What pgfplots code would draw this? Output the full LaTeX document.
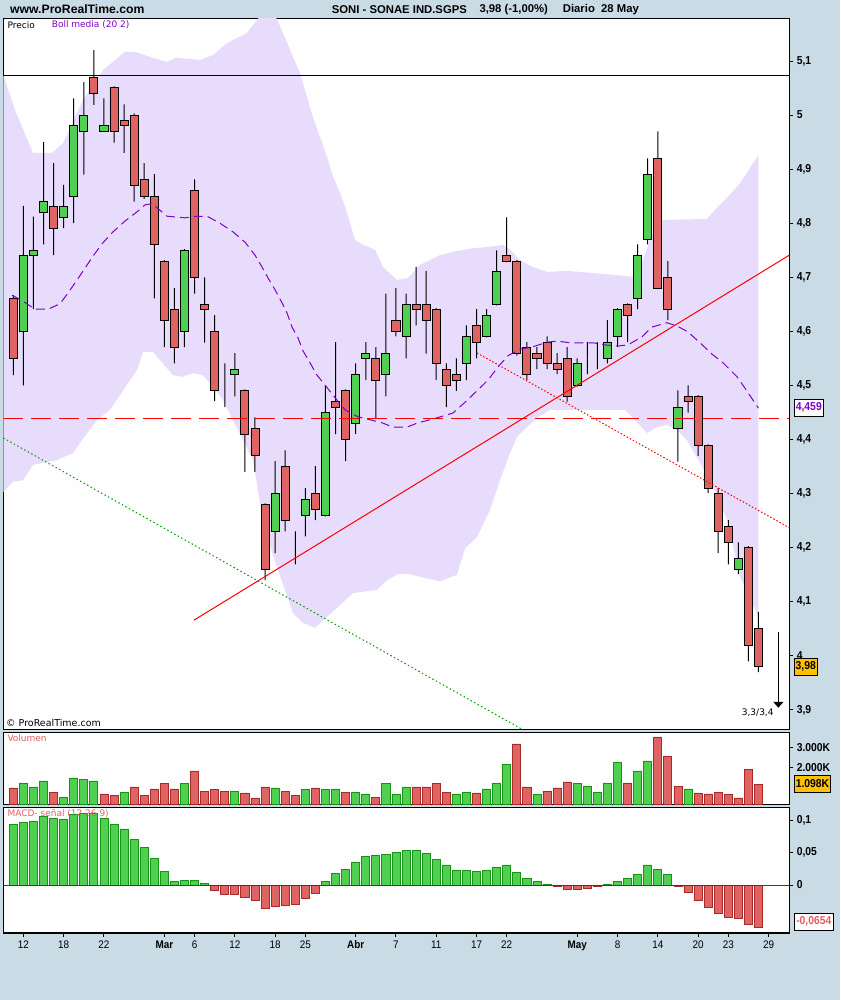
\documentclass[border=0pt]{standalone}
\usepackage{pgfplots}
\pgfplotsset{compat=1.18}
\usepackage{pgfplotstable}
\usetikzlibrary{arrows.meta}
\usepackage{fontspec}
\setmainfont{Liberation Sans}
\newfontfamily\tickfont[FakeStretch=0.9]{Liberation Sans}
\newfontfamily\smallfont{DejaVu Sans}

\definecolor{bgc}{RGB}{201,220,230}
\definecolor{bandc}{RGB}{232,220,252}
\definecolor{cgreen}{RGB}{80,208,80}
\definecolor{cred}{RGB}{222,100,100}
\definecolor{dgreen}{RGB}{20,150,20}
\definecolor{dred}{RGB}{170,40,40}
\definecolor{purp}{RGB}{128,0,200}
\definecolor{orng}{RGB}{255,192,0}
\definecolor{labred}{RGB}{224,96,96}
\definecolor{zblue}{RGB}{40,40,220}

\pgfplotstableread{
i o h l c
0 4.661 4.667 4.519 4.550
1 4.600 4.832 4.500 4.741
2 4.741 4.812 4.641 4.750
3 4.820 4.950 4.761 4.841
4 4.831 4.911 4.741 4.791
5 4.811 4.871 4.791 4.831
6 4.849 5.031 4.800 4.981
7 4.970 5.061 4.890 5.000
8 5.070 5.120 5.019 5.040
9 4.970 5.031 4.970 4.981
10 5.051 5.053 4.949 4.970
11 4.990 5.020 4.930 4.981
12 5.000 5.003 4.840 4.870
13 4.881 4.911 4.845 4.849
14 4.850 4.891 4.661 4.761
15 4.730 4.732 4.571 4.621
16 4.641 4.680 4.541 4.571
17 4.600 4.752 4.571 4.750
18 4.861 4.881 4.670 4.700
19 4.650 4.700 4.579 4.641
20 4.600 4.630 4.471 4.491
21 4.480 4.541 4.460 4.480
22 4.521 4.560 4.480 4.530
23 4.491 4.493 4.340 4.410
24 4.421 4.441 4.340 4.371
25 4.280 4.282 4.140 4.160
26 4.230 4.360 4.190 4.301
27 4.351 4.380 4.230 4.251
28 4.190 4.230 4.169 4.190
29 4.260 4.310 4.221 4.290
30 4.301 4.351 4.251 4.271
31 4.260 4.500 4.258 4.450
32 4.471 4.580 4.410 4.460
33 4.491 4.493 4.360 4.400
34 4.430 4.541 4.410 4.521
35 4.550 4.580 4.510 4.560
36 4.550 4.571 4.439 4.510
37 4.521 4.670 4.480 4.560
38 4.621 4.680 4.591 4.600
39 4.591 4.670 4.550 4.650
40 4.650 4.720 4.611 4.641
41 4.650 4.712 4.559 4.621
42 4.641 4.643 4.510 4.541
43 4.530 4.541 4.460 4.500
44 4.521 4.550 4.490 4.510
45 4.541 4.611 4.510 4.591
46 4.611 4.641 4.550 4.580
47 4.591 4.641 4.589 4.630
48 4.650 4.750 4.648 4.711
49 4.741 4.811 4.728 4.730
50 4.730 4.732 4.555 4.560
51 4.571 4.580 4.510 4.521
52 4.560 4.571 4.530 4.550
53 4.580 4.591 4.530 4.541
54 4.541 4.560 4.521 4.530
55 4.550 4.571 4.470 4.480
56 4.500 4.550 4.498 4.541
57 4.550 4.580 4.521 4.550
58 4.560 4.580 4.530 4.560
59 4.550 4.621 4.541 4.580
60 4.591 4.643 4.571 4.641
61 4.650 4.652 4.580 4.630
62 4.661 4.761 4.641 4.741
63 4.770 4.920 4.761 4.891
64 4.920 4.970 4.678 4.680
65 4.700 4.730 4.621 4.641
66 4.421 4.491 4.359 4.460
67 4.480 4.500 4.450 4.470
68 4.480 4.482 4.370 4.389
69 4.389 4.391 4.301 4.310
70 4.301 4.310 4.190 4.230
71 4.240 4.251 4.169 4.210
72 4.160 4.210 4.151 4.180
73 4.201 4.203 3.990 4.020
74 4.051 4.081 3.970 3.980
}\ohlc
\pgfplotstablecreatecol[create col/expr={min(\thisrow{o},\thisrow{c})-\thisrow{l}}]{lw}{\ohlc}
\pgfplotstablecreatecol[create col/expr={max(\thisrow{c}-\thisrow{o},0)}]{up}{\ohlc}
\pgfplotstablecreatecol[create col/expr={max(\thisrow{o}-\thisrow{c},0)}]{dn}{\ohlc}
\pgfplotstablecreatecol[create col/expr={\thisrow{h}-max(\thisrow{o},\thisrow{c})}]{uw}{\ohlc}

\pgfplotstableread{
i g r
0 nan 0.93
1 1.19 nan
2 0.98 nan
3 1.29 nan
4 nan 0.72
5 0.46 nan
6 1.45 nan
7 1.39 nan
8 1.29 nan
9 nan 0.62
10 nan 0.52
11 0.72 nan
12 nan 0.98
13 nan 0.52
14 nan 0.88
15 nan 1.14
16 nan 0.88
17 1.14 nan
18 nan 1.81
19 nan 0.77
20 nan 0.83
21 nan 0.77
22 0.77 nan
23 nan 0.67
24 nan 0.41
25 nan 0.98
26 0.93 nan
27 nan 0.77
28 nan 0.52
29 0.83 nan
30 nan 0.93
31 0.83 nan
32 0.88 nan
33 nan 0.72
34 0.72 nan
35 0.62 nan
36 nan 0.46
37 1.14 nan
38 0.57 nan
39 0.98 nan
40 nan 0.98
41 nan 0.98
42 nan 1.14
43 nan 0.72
44 0.62 nan
45 0.72 nan
46 nan 0.67
47 0.88 nan
48 1.19 nan
49 2.17 nan
50 nan 3.21
51 nan 0.98
52 0.57 nan
53 nan 0.77
54 nan 0.93
55 nan 1.24
56 1.14 nan
57 1.03 nan
58 0.72 nan
59 1.19 nan
60 2.27 nan
61 nan 1.19
62 1.81 nan
63 2.33 nan
64 nan 3.57
65 nan 2.58
66 nan 1.03
67 0.88 nan
68 nan 0.67
69 nan 0.62
70 nan 0.72
71 nan 0.57
72 nan 0.41
73 nan 1.91
74 nan 1.10
}\vol

\pgfplotstableread{
i m
0 0.0947
1 0.0978
2 0.0994
3 0.1061
4 0.1040
5 0.1025
6 0.1092
7 0.1113
8 0.1118
9 0.1040
10 0.0947
11 0.0870
12 0.0714
13 0.0590
14 0.0419
15 0.0217
16 0.0062
17 0.0078
18 0.0078
19 0.0031
20 -0.0078
21 -0.0140
22 -0.0140
23 -0.0186
24 -0.0233
25 -0.0357
26 -0.0326
27 -0.0311
28 -0.0295
29 -0.0202
30 -0.0124
31 0.0062
32 0.0186
33 0.0248
34 0.0357
35 0.0450
36 0.0466
37 0.0481
38 0.0512
39 0.0543
40 0.0543
41 0.0497
42 0.0404
43 0.0311
44 0.0233
45 0.0233
46 0.0217
47 0.0233
48 0.0280
49 0.0311
50 0.0202
51 0.0109
52 0.0062
53 0.0016
54 -0.0016
55 -0.0062
56 -0.0062
57 -0.0047
58 -0.0016
59 0.0005
60 0.0062
61 0.0098
62 0.0171
63 0.0311
64 0.0248
65 0.0171
66 -0.0016
67 -0.0109
68 -0.0233
69 -0.0342
70 -0.0435
71 -0.0497
72 -0.0512
73 -0.0605
74 -0.0654
}\macd

\pgfplotsset{
  pricebox/.style={at={(3.3pt,270.7pt)}, anchor=south west, scale only axis,
    width=786pt, height=711pt, xmin=-0.993, xmax=77.06, ymin=3.8642, ymax=5.179},
  rtick/.style={ytick pos=right, yticklabel pos=right, tick align=outside,
    major tick length=4pt, tick style={black, line width=1pt},
    yticklabel style={font=\tickfont\bfseries\fontsize{11.5}{12}\selectfont, black}},
}

\begin{document}
\begin{tikzpicture}
\fill[bgc] (0pt,0pt) rectangle (840pt,1000pt);

% ---------- price panel: band fill + frame ----------
\begin{axis}[pricebox, rtick, axis background/.style={fill=white},
  axis line style={line width=1.2pt}, xtick=\empty,
  ytick={3.9,4,4.1,4.2,4.3,4.4,4.5,4.6,4.7,4.8,4.9,5,5.1},
  yticklabels={{3,9},{4},{4,1},{4,2},{4,3},{4,4},{4,5},{4,6},{4,7},{4,8},{4,9},{5},{5,1}}]
% Bollinger band (upper band left to right, then lower band right to left)
\addplot[fill=bandc, draw=none] coordinates {
(-0.99,5.074) (0.17,5.009) (1.96,4.930) (3.84,4.930) (4.94,4.948) (6.92,5.028) (8.91,5.083)
(11.09,5.117) (12.09,5.117) (13.87,5.106) (15.26,5.098) (16.06,5.106) (18.54,5.102) (19.83,5.111)
(21.22,5.133) (23.21,5.152) (24.2,5.176) (24.7,5.187) (25.5,5.191) (26.1,5.180) (26.78,5.152)
(27.78,5.107) (28.47,5.078) (29.17,5.033) (29.76,4.996) (30.46,4.959) (31.16,4.922) (31.75,4.886)
(32.45,4.856) (33.14,4.819) (33.93,4.769) (34.73,4.760) (35.92,4.751) (36.71,4.719) (38.10,4.695)
(39.19,4.699) (40.39,4.723) (42.37,4.741) (43.66,4.747) (45.65,4.754) (47.04,4.756) (48.63,4.760)
(49.32,4.751) (50.32,4.732) (51.61,4.719) (53.0,4.710) (54.98,4.712) (57.57,4.708) (61.54,4.701)
(62.23,4.719) (63.52,4.782) (64.52,4.806) (68.89,4.808) (69.49,4.821) (70.87,4.847) (72.17,4.874)
(74.0,4.926)
(74.0,4.072) (72.17,4.146) (70.88,4.251) (69.49,4.312) (68.19,4.357) (66.9,4.399) (65.9,4.418)
(64.91,4.427) (63.92,4.423) (62.93,4.412) (61.94,4.432) (60.75,4.455) (53.3,4.455) (52.0,4.440)
(51.01,4.423) (50.02,4.405) (49.32,4.375) (48.33,4.325) (47.34,4.270) (46.05,4.220) (44.86,4.199)
(44.06,4.150) (42.37,4.138) (40.39,4.146) (39.39,4.151) (38.2,4.151) (37.11,4.140) (36.12,4.122)
(33.74,4.116) (31.15,4.072) (29.96,4.052) (28.77,4.061) (27.78,4.079) (26.19,4.164) (25.19,4.220)
(24.5,4.283) (23.8,4.362) (21.82,4.436) (20.82,4.473) (19.83,4.497) (18.84,4.519) (17.85,4.523)
(16.75,4.516) (15.86,4.519) (13.87,4.562) (12.88,4.562) (12.28,4.529) (9.6,4.455) (8.31,4.436)
(6.62,4.394) (5.93,4.375) (4.34,4.362) (2.95,4.357) (1.96,4.353) (0.96,4.325) (-0.03,4.322)
(-0.99,4.303)} -- cycle;
\end{axis}

% ---------- candles (wicks + bodies, stacked) ----------
\begin{axis}[pricebox, hide axis, ybar stacked]
\addplot[draw=none, fill=none, bar width=1pt] table[x=i, y=l]{\ohlc};
\addplot[draw=none, fill=black, bar width=1pt] table[x=i, y=lw]{\ohlc};
\addplot[draw=black, fill=cgreen, line width=0.9pt, bar width=0.8] table[x=i, y=up]{\ohlc};
\addplot[draw=black, fill=cred, line width=0.9pt, bar width=0.8] table[x=i, y=dn]{\ohlc};
\addplot[draw=none, fill=black, bar width=1pt] table[x=i, y=uw]{\ohlc};
\end{axis}

% ---------- lines ----------
\begin{axis}[pricebox, hide axis]
\addplot[purp, line width=1pt, dash pattern=on 9pt off 5pt] coordinates {
(-0.13,4.667) (0.96,4.656) (2.15,4.641) (3.45,4.641) (4.64,4.651) (5.43,4.671) (6.33,4.695)
(7.12,4.717) (7.91,4.739) (8.81,4.762) (9.9,4.784) (11.09,4.804) (12.28,4.821) (13.08,4.834)
(13.77,4.836) (14.57,4.824) (15.26,4.813) (17.05,4.810) (18.24,4.813) (19.34,4.812) (20.53,4.800)
(21.82,4.784) (23.01,4.765) (24.0,4.741) (24.7,4.719) (25.29,4.699) (25.99,4.677) (26.68,4.653)
(27.18,4.634) (27.68,4.608) (28.27,4.588) (28.77,4.564) (29.46,4.542) (30.16,4.519) (30.95,4.501)
(32.14,4.473) (32.94,4.455) (34.23,4.442) (35.12,4.438) (36.61,4.431) (37.7,4.423) (39.1,4.423)
(40.19,4.431) (41.68,4.438) (43.66,4.449) (44.86,4.469) (46.15,4.492) (47.14,4.510) (48.13,4.534)
(49.12,4.555) (50.32,4.567) (51.51,4.571) (53.0,4.580) (53.99,4.582) (55.28,4.579) (57.57,4.579)
(58.76,4.575) (60.05,4.573) (61.04,4.575) (62.43,4.590) (63.42,4.608) (64.91,4.616) (65.91,4.610)
(67.0,4.599) (68.19,4.579) (69.38,4.558) (70.48,4.542) (71.87,4.516) (72.66,4.495) (73.45,4.473)
(74.0,4.458)};
\addplot[black, line width=1.1pt] coordinates {(-0.993,5.074) (77.06,5.074)};
\addplot[red, line width=1.2pt, dash pattern=on 20pt off 8pt] coordinates {(-0.993,4.439) (77.06,4.439)};
\addplot[red, line width=1pt] coordinates {(17.94,4.066) (77.06,4.741)};
\addplot[red, line width=1pt, dash pattern=on 1.5pt off 2pt] coordinates {(46.05,4.560) (77.06,4.237)};
\addplot[green!60!black, line width=1pt, dash pattern=on 1.5pt off 2.5pt] coordinates {(-0.993,4.403) (50.55,3.864)};
\draw[line width=1.4pt, -{Triangle[width=10pt,length=6pt]}] (axis cs:75.97,4.044) -- (axis cs:75.97,3.904);
\end{axis}

% ---------- volume ----------
\begin{axis}[at={(3.3pt,195.7pt)}, anchor=south west, scale only axis, width=786pt, height=72pt,
  xmin=-0.993, xmax=77.06, ymin=0.083, ymax=3.813, rtick, axis background/.style={fill=white},
  axis line style={line width=1.2pt}, xtick=\empty, ytick={2,3}, yticklabels={{2.000K},{3.000K}}]
\addplot[ybar, bar width=0.8, bar shift=0pt, fill=cgreen, draw=dgreen, line width=0.8pt] table[x=i, y=g]{\vol};
\addplot[ybar, bar width=0.8, bar shift=0pt, fill=cred, draw=dred, line width=0.8pt] table[x=i, y=r]{\vol};
\end{axis}

% ---------- MACD ----------
\begin{axis}[at={(3.3pt,67pt)}, anchor=south west, scale only axis, width=786pt, height=125.7pt,
  xmin=-0.993, xmax=77.06, ymin=-0.0745, ymax=0.1207, rtick, axis background/.style={fill=white},
  axis line style={line width=1.2pt}, ytick={0,0.05,0.1}, yticklabels={{0},{0,05},{0,1}},
  xtick pos=left,
  xtick={1,5,9,15,18,22,26,29,34,38,42,46,49,56,60,64,68,71,75},
  xticklabels={12,18,22,\textbf{Mar},6,12,18,25,\textbf{Abr},7,11,17,22,\textbf{May},8,14,20,23,29},
  xticklabel style={font=\tickfont\fontsize{11}{12}\selectfont, black}]
\addplot[ybar, bar width=0.8, bar shift=0pt, fill=cgreen, draw=dgreen, line width=0.8pt,
  restrict y to domain=0:1] table[x=i, y=m]{\macd};
\addplot[ybar, bar width=0.8, bar shift=0pt, fill=cred, draw=dred, line width=0.8pt,
  restrict y to domain=-1:0] table[x=i, y=m]{\macd};
\addplot[zblue, line width=1pt] coordinates {(-0.993,0) (77.06,0)};
\end{axis}

% ---------- texts ----------
\node[anchor=west, inner sep=0, font=\bfseries\fontsize{12.2}{14}\selectfont] at (10pt,990.5pt) {www.ProRealTime.com};
\node[anchor=west, inner sep=0, font=\bfseries\fontsize{11.3}{13}\selectfont] at (331.7pt,990.5pt) {SONI - SONAE IND.SGPS};
\node[anchor=west, inner sep=0, font=\bfseries\fontsize{11.3}{13}\selectfont] at (479.3pt,990.5pt) {3,98 (-1,00\%)};
\node[anchor=west, inner sep=0, font=\bfseries\fontsize{11.3}{13}\selectfont] at (562.7pt,990.5pt) {Diario\ \ 28 May};

\node[anchor=west, inner sep=0, font=\smallfont\fontsize{9}{10}\selectfont] at (7.3pt,975pt) {Precio};
\node[anchor=west, inner sep=0, font=\smallfont\fontsize{9}{10}\selectfont, text=purp] at (51.7pt,975pt) {Boll media (20 2)};
\node[anchor=west, inner sep=0, font=\smallfont\fontsize{9.5}{10}\selectfont] at (6pt,277.5pt) {© ProRealTime.com};
\node[anchor=west, inner sep=0, font=\smallfont\fontsize{9}{10}\selectfont] at (741.7pt,287.5pt) {3,3/3,4};
\node[anchor=west, inner sep=0, font=\smallfont\fontsize{9}{10}\selectfont, text=labred] at (7.3pt,261.5pt) {Volumen};
\node[anchor=west, inner sep=0, font=\smallfont\fontsize{9}{10}\selectfont, text=labred] at (7.3pt,186pt) {MACD- señal (12 26 9)};

\node[draw=black, fill=white, line width=1pt, inner sep=0pt, minimum width=29pt, minimum height=16.7pt,
  text=purp, font=\tickfont\bfseries\fontsize{11.5}{12}\selectfont] at (808.8pt,592.3pt) {4,459};
\node[draw=black, fill=orng, line width=1pt, inner sep=0pt, minimum width=23pt, minimum height=16.7pt,
  font=\tickfont\bfseries\fontsize{11.5}{12}\selectfont] at (805.8pt,333.3pt) {3,98};
\node[draw=black, fill=orng, line width=1pt, inner sep=0pt, minimum width=36.4pt, minimum height=16.7pt,
  font=\tickfont\bfseries\fontsize{11.5}{12}\selectfont] at (812.5pt,216pt) {1.098K};
\node[draw=black, fill=white, line width=1pt, inner sep=0pt, minimum width=39pt, minimum height=16.7pt,
  text=labred, font=\tickfont\bfseries\fontsize{11.5}{12}\selectfont] at (813.8pt,78.3pt) {-0,0654};

\pgfresetboundingbox
\path[use as bounding box] (0pt,0pt) rectangle (840pt,1000pt);
\end{tikzpicture}
\end{document}
